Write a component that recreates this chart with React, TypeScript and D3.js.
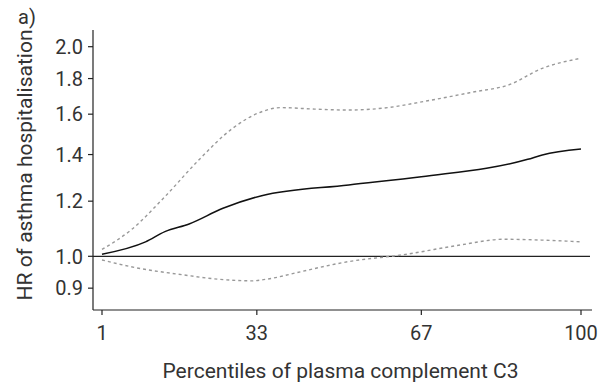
import React from "react";
import * as d3 from "d3";

const pctMain = [1, 10, 14, 19, 26, 34, 52, 67, 89, 92, 100];
const hrMain = [1.007, 1.049, 1.085, 1.113, 1.172, 1.222, 1.266, 1.301, 1.378, 1.398, 1.426];

const pctUpper = [1, 7, 14, 21, 28, 34, 38, 45, 52, 60, 68, 78, 85, 92, 100];
const hrUpper = [1.023, 1.091, 1.218, 1.375, 1.527, 1.613, 1.635, 1.627, 1.622, 1.635, 1.671, 1.723, 1.762, 1.862, 1.925];

const pctLower = [1, 7, 18, 25, 32, 35, 42, 49, 51, 64, 75, 84, 92, 100];
const hrLower = [0.988, 0.966, 0.94, 0.927, 0.922, 0.927, 0.95, 0.974, 0.98, 1.007, 1.038, 1.058, 1.055, 1.049];

const xTicks = [1, 33, 67, 100];
const yTicks = [0.9, 1.0, 1.2, 1.4, 1.6, 1.8, 2.0];

const panelLabel = "a)";
const xTitle = "Percentiles of plasma complement C3";
const yTitle = "HR of asthma hospitalisation";

export default function App() {
  const W = 615, H = 382;
  const axisX = 93, axisY = 310, axisTop = 30, axisRight = 592;
  const x = d3.scaleLinear().domain([1, 100]).range([102, 581]);
  const y = d3.scaleLog().domain([1, 2]).range([256.3, 46.7]);
  const font = "Roboto, 'DejaVu Sans', sans-serif";
  const line = d3.line<[number, number]>().x(d => x(d[0])).y(d => y(d[1])).curve(d3.curveMonotoneX);
  const mainPts = pctMain.map((p, i) => [p, hrMain[i]] as [number, number]);
  const upPts = pctUpper.map((p, i) => [p, hrUpper[i]] as [number, number]);
  const loPts = pctLower.map((p, i) => [p, hrLower[i]] as [number, number]);
  return (
    <svg width={W} height={H} style={{ position: "absolute", left: 0, top: 0, background: "#fff" }}>
      <rect width={W} height={H} fill="#fff" />
      <text x={18} y={24} fontFamily={font} fontSize={20} fill="#333">{panelLabel}</text>
      <line x1={axisX} x2={590} y1={y(1)} y2={y(1)} stroke="#222" strokeWidth={1.3} />
      <path d={line(upPts) || ""} fill="none" stroke="#999" strokeWidth={1.4} strokeDasharray="3,3" />
      <path d={line(loPts) || ""} fill="none" stroke="#999" strokeWidth={1.4} strokeDasharray="3,3" />
      <path d={line(mainPts) || ""} fill="none" stroke="#111" strokeWidth={1.5} />
      <line x1={axisX} x2={axisX} y1={axisTop} y2={axisY} stroke="#222" strokeWidth={1.2} />
      <line x1={axisX} x2={axisRight} y1={axisY} y2={axisY} stroke="#222" strokeWidth={1.2} />
      {yTicks.map(t => (
        <g key={t}>
          <line x1={axisX - 5} x2={axisX} y1={y(t)} y2={y(t)} stroke="#222" strokeWidth={1.2} />
          <text x={83} y={y(t)} dy="0.36em" textAnchor="end" fontFamily={font} fontSize={20} fill="#333">{t.toFixed(1)}</text>
        </g>
      ))}
      {xTicks.map(t => (
        <g key={t}>
          <line x1={x(t)} x2={x(t)} y1={axisY} y2={axisY + 5} stroke="#222" strokeWidth={1.2} />
          <text x={x(t)} y={340} textAnchor="middle" fontFamily={font} fontSize={20} fill="#333">{t}</text>
        </g>
      ))}
      <text x={340.5} y={378} textAnchor="middle" fontFamily={font} fontSize={21} fill="#333">{xTitle}</text>
      <text transform={`translate(32,165) rotate(-90)`} textAnchor="middle" fontFamily={font} fontSize={21} fill="#333">{yTitle}</text>
    </svg>
  );
}
